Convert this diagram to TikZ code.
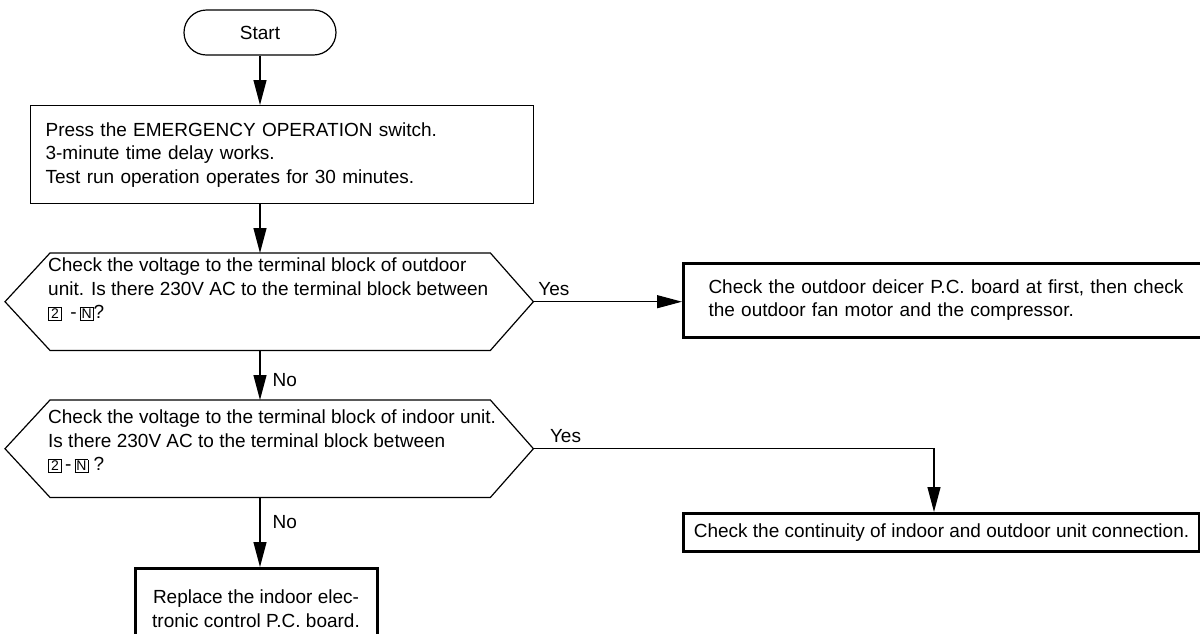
\documentclass[tikz,border=0pt]{standalone}
\usepackage{fontspec}
\setmainfont{Liberation Sans}
\usetikzlibrary{arrows.meta,calc}
\newcommand{\tbx}[1]{{\fontsize{14}{14}\selectfont\setlength{\fboxsep}{1.4pt}\setlength{\fboxrule}{0.7pt}\fbox{\makebox[9.5pt]{#1}}}}
\begin{document}
\begin{tikzpicture}[x=1pt,y=-1pt,
  font=\fontsize{19}{23.5}\selectfont,
  ln/.style={draw=black, line width=1.2pt},
  arr/.style={ln, -{Triangle[length=25pt,width=13pt]}},
  thinbox/.style={draw=black, line width=1.2pt},
  thickbox/.style={draw=black, line width=3pt},
  hexarea/.style={minimum width=528pt, minimum height=97pt, inner sep=0pt, anchor=north west},
  txt/.style={inner sep=0pt, align=left},
  lbl/.style={inner sep=0pt}]
\useasboundingbox (0,0) rectangle (1200,633);

% Start
\node[thinbox, rounded corners=22.5pt, minimum width=152pt, minimum height=45pt, inner sep=0pt] (start) at (260,32.5) {Start};

% Process box
\node[thinbox, anchor=north west, minimum height=98pt, text width=473pt, inner xsep=15pt, align=left] (proc) at (30,105)
  {Press the EMERGENCY OPERATION switch.\\3-minute time delay works.\\Test run operation operates for 30 minutes.};

% Decision 1
\node[hexarea] (h1) at (5,253) {};
\draw[ln] (h1.west) -- ($(h1.north west)+(45,0)$) -- ($(h1.north east)+(-43,0)$) -- (h1.east)
  -- ($(h1.south east)+(-43,0)$) -- ($(h1.south west)+(45,0)$) -- cycle;
\node[txt, anchor=north west] (t1) at (48,258)
  {Check the voltage to the terminal block of outdoor\\unit. Is there 230V AC to the terminal block between\\\tbx{2}\ \,-\,\tbx{N}?};

% Result 1
\node[thickbox, anchor=west, minimum height=74pt, text width=520pt, inner xsep=25pt, align=left] (r1) at (682,300)
  {Check the outdoor deicer P.C. board at first, then check\\the outdoor fan motor and the compressor.};

% Decision 2
\node[hexarea] (h2) at (5,400) {};
\draw[ln] (h2.west) -- ($(h2.north west)+(45,0)$) -- ($(h2.north east)+(-43,0)$) -- (h2.east)
  -- ($(h2.south east)+(-43,0)$) -- ($(h2.south west)+(45,0)$) -- cycle;
\node[txt, anchor=north west] (t2) at (48,410)
  {Check the voltage to the terminal block of indoor unit.\\Is there 230V AC to the terminal block between\\\tbx{2}\,-\,\tbx{N} ?};

% Result 2
\node[thickbox, anchor=north west, minimum height=38pt, minimum width=516pt, inner xsep=8pt] (r2) at (682,512)
  {Check the continuity of indoor and outdoor unit connection.};

% Final box
\node[thickbox, anchor=north, minimum width=242pt, minimum height=80pt, align=center] (fin) at (256,567)
  {Replace the indoor elec-\\tronic control P.C. board.};

% Connectors
\draw[arr] (start.south) -- (start.south |- proc.north);
\draw[arr] (start.south |- proc.south) -- (start.south |- h1.north);
\draw[arr] (h1.east) -- node[lbl, pos=0.03, anchor=south west, yshift=5pt] {Yes} (h1.east -| r1.west);
\draw[arr] (start.south |- h1.south) -- node[lbl, pos=0.6, anchor=west, xshift=12pt] {No} (start.south |- h2.north);
\draw[arr] (h2.east) -| node[lbl, pos=0.02, anchor=south west, yshift=5pt] {Yes} ($(r2.north west)+(252,0)$);
\draw[arr] (start.south |- h2.south) -- node[lbl, pos=0.35, anchor=west, xshift=12pt] {No} (start.south |- fin.north);
\end{tikzpicture}
\end{document}
